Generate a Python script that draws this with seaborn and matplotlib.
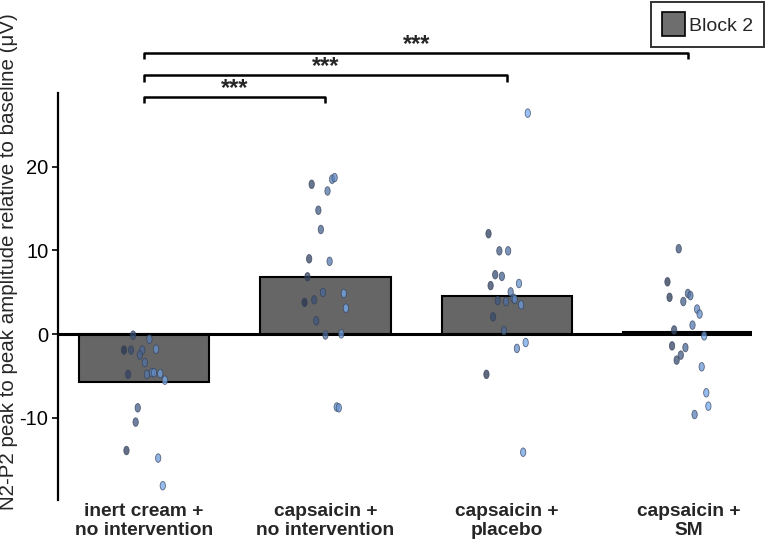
import numpy as np
import pandas as pd
import matplotlib
matplotlib.use("Agg")
import matplotlib.pyplot as plt
from matplotlib.path import Path
from matplotlib.patches import Patch
from matplotlib.colors import LinearSegmentedColormap
import seaborn as sns

# ---------------- data ----------------
categories = ["inert cream +\nno intervention", "capsaicin +\nno intervention",
              "capsaicin +\nplacebo", "capsaicin +\nSM"]
bar_means = [-5.7, 6.8, 4.5, 0.2]

vals_g1 = [-0.12, -0.6, -1.9, -1.9, -1.9, -2.5, -1.8, -3.4, -4.8, -4.8, -4.6, -4.6,
           -4.7, -5.5, -8.8, -10.5, -13.9, -14.8, -18.1]
shade_g1 = [0.24, 0.63, 0.02, 0.19, 0.46, 0.40, 0.79, 0.52, 0.12, 0.57, 0.69, 0.74,
            0.89, 1.0, 0.35, 0.30, 0.08, 0.84, 0.95]
vals_g2 = [17.9, 18.5, 18.7, 17.1, 14.8, 12.5, 9.0, 8.7, 6.85, 4.98, 4.86, 4.1, 3.8,
           3.1, 1.6, -0.1, 0.04, -8.7, -8.8]
shade_g2 = [0.17, 0.66, 0.72, 0.55, 0.33, 0.39, 0.11, 0.60, 0.07, 0.44, 0.94, 0.23,
            0.0, 0.99, 0.28, 0.5, 0.88, 0.77, 0.82]
vals_g3 = [26.4, 12.0, 9.95, 9.95, 7.1, 6.9, 5.8, 6.05, 5.05, 4.0, 3.9, 4.3, 4.15, 3.5,
           2.07, 0.44, -1.0, -1.7, -4.8, -14.1]
shade_g3 = [1.0, 0.06, 0.32, 0.53, 0.22, 0.38, 0.11, 0.79, 0.59, 0.28, 0.48, 0.66,
            0.69, 0.84, 0.17, 0.43, 0.95, 0.74, 0.01, 0.89]
vals_g4 = [10.2, 6.25, 4.4, 4.86, 4.6, 3.9, 3.0, 2.4, 1.08, 0.5, -0.2, -1.4, -1.6,
           -2.5, -3.1, -3.9, -7.0, -8.6, -9.6]
shade_g4 = [0.27, 0.0, 0.05, 0.49, 0.55, 0.38, 0.71, 0.77, 0.60, 0.16, 0.88, 0.11,
            0.43, 0.32, 0.22, 0.82, 0.93, 0.98, 0.65]

y_ticks = [-10, 0, 10, 20]
comparisons = [(0, 1, "***"), (0, 2, "***"), (0, 3, "***")]
legend_label = "Block 2"
y_label = "N2-P2 peak to peak amplitude relative to baseline (\u03bcV)"

# ---------------- build tables ----------------
bars_df = pd.DataFrame({"pos": np.arange(len(categories)), "mean": bar_means})
groups = [(vals_g1, shade_g1), (vals_g2, shade_g2), (vals_g3, shade_g3), (vals_g4, shade_g4)]
rows = []
for gi, (v, s) in enumerate(groups):
    for vv, ss in zip(v, s):
        rows.append({"group": gi, "value": vv, "shade": ss})
pts = pd.DataFrame(rows)
spread = 0.23
pts["xpos"] = pts["group"] + (pts["shade"] - 0.5) * spread

# ---------------- style ----------------
sns.set_theme(style="white")
plt.rcParams["font.family"] = ["Liberation Sans", "DejaVu Sans"]

fig = plt.figure(figsize=(7.65, 5.44), dpi=100)
ax = fig.add_axes([0.0758, 0.081, 0.907, 0.748])

sns.barplot(data=bars_df, x="pos", y="mean", native_scale=True, width=0.72,
            color="#666666", saturation=1, edgecolor="black", linewidth=1.5,
            ax=ax, zorder=2, errorbar=None)

cmap = LinearSegmentedColormap.from_list("bl", ["#2a3650", "#4f6f9f", "#78adf2"])
ell = Path.unit_circle()
ell = Path(ell.vertices * np.array([0.62, 1.0]), ell.codes)
sns.scatterplot(data=pts, x="xpos", y="value", hue="shade", palette=cmap,
                hue_norm=(0, 1), marker=ell, s=38, alpha=0.75,
                edgecolor="#33405a", linewidth=0.6, legend=False, ax=ax, zorder=4)

ax.axhline(0, color="black", lw=2.2, zorder=3)

ax.set_xlim(-0.474, 3.35)
ax.set_ylim(-19.8, 28.8)
ax.set_yticks(y_ticks)
ax.set_yticklabels([str(t) for t in y_ticks], fontsize=14.5)
ax.set_xticks(range(len(categories)))
ax.set_xticklabels(categories, fontsize=13.8, fontweight="bold", linespacing=1.15)
ax.tick_params(axis="x", length=0, pad=2)
ax.tick_params(axis="y", length=4, width=1.2, direction="out", left=True, colors="black", pad=3)
for side in ["top", "right", "bottom"]:
    ax.spines[side].set_visible(False)
ax.spines["left"].set_color("black")
ax.spines["left"].set_linewidth(1.6)
ax.set_xlabel("")
ax.set_ylabel(y_label, fontsize=14.8)
ax.yaxis.set_label_coords(-0.058, 0.585)

# significance brackets
levels = [28.3, 30.9, 33.6]
for (a, b, txt), yl in zip(comparisons, levels):
    ax.plot([a, a, b, b], [yl - 0.75, yl, yl, yl - 0.75], color="black", lw=1.8,
            clip_on=False, solid_capstyle="butt")
    ax.text((a + b) / 2, yl - 0.35, txt, ha="center", va="bottom", fontsize=17,
            fontweight="semibold", clip_on=False)

leg = fig.legend(handles=[Patch(facecolor="#6e6e6e", edgecolor="black", lw=1.2,
                                label=legend_label)],
                 loc="upper right", bbox_to_anchor=(0.999, 0.997), frameon=True,
                 fancybox=False, edgecolor="black", fontsize=14,
                 handlelength=1.15, handleheight=1.5, handletextpad=0.25,
                 borderpad=0.55, borderaxespad=0)
leg.get_frame().set_linewidth(1.4)

fig.savefig("out.png", dpi=100)
